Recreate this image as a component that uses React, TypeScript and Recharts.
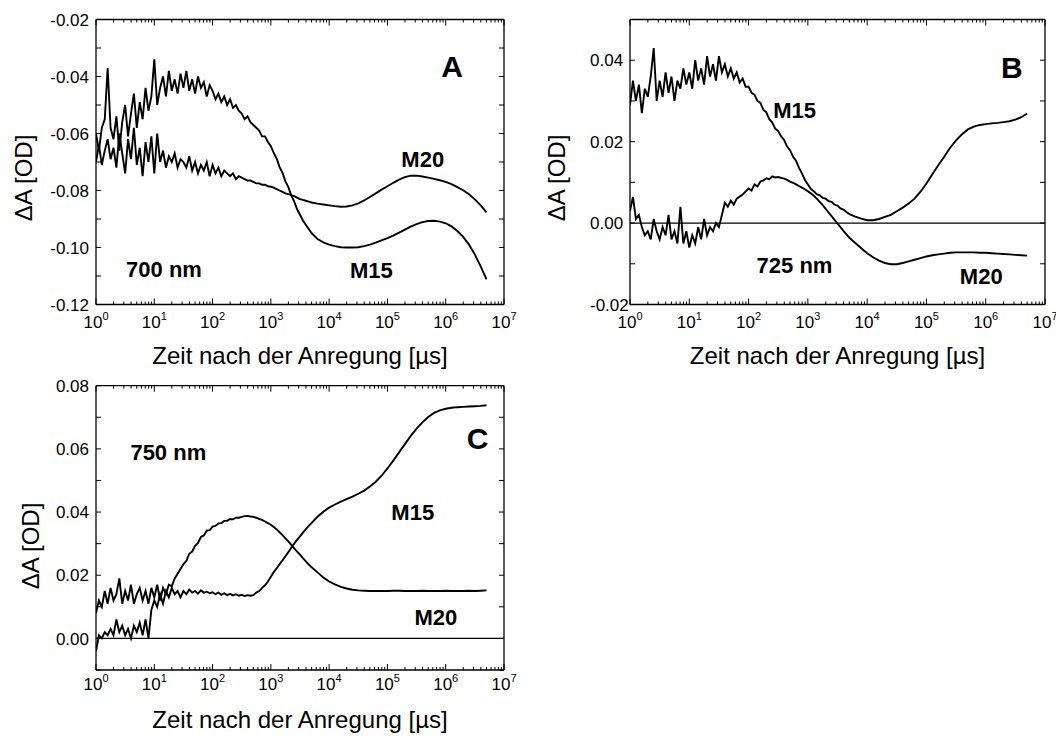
import React from 'react'
import { LineChart, Line, XAxis, YAxis, ReferenceLine, ReferenceDot } from 'recharts'

// log10 of the time after excitation (µs); dense where the traces are noisy
const logTime = [
    0.0, 0.05, 0.1, 0.15, 0.2, 0.25, 0.3, 0.35, 0.4, 0.45,
    0.5, 0.55, 0.6, 0.65, 0.7, 0.75, 0.8, 0.85, 0.9, 0.95,
    1.0, 1.05, 1.1, 1.15, 1.2, 1.25, 1.3, 1.35, 1.4, 1.45,
    1.5, 1.55, 1.6, 1.65, 1.7, 1.75, 1.8, 1.85, 1.9, 1.95,
    2.0, 2.05, 2.1, 2.15, 2.2, 2.25, 2.3, 2.35, 2.4, 2.45,
    2.5, 2.55, 2.6, 2.65, 2.7, 2.75, 2.8, 2.85, 2.9, 2.95,
    3.0, 3.05, 3.1, 3.15, 3.2, 3.25, 3.3, 3.35, 3.4, 3.45,
    3.5, 3.55, 3.6, 3.65,
    3.7, 3.8, 3.9, 4.0, 4.1, 4.2, 4.3, 4.4, 4.5, 4.6,
    4.7, 4.8, 4.9, 5.0, 5.1, 5.2, 5.3, 5.4, 5.5, 5.6,
    5.7, 5.8, 5.9, 6.0, 6.1, 6.2, 6.3, 6.4, 6.5, 6.6, 6.7,
]

// 700 nm
const m15At700 = [
    -0.060, -0.066, -0.058, -0.055, -0.037, -0.058, -0.062, -0.054, -0.066, -0.056,
    -0.050, -0.061, -0.053, -0.046, -0.058, -0.049, -0.055, -0.044, -0.052, -0.047,
    -0.034, -0.050, -0.044, -0.040, -0.047, -0.038, -0.045, -0.041, -0.046, -0.039,
    -0.044, -0.038, -0.045, -0.041, -0.046, -0.040, -0.044, -0.042, -0.047, -0.043,
    -0.045, -0.048, -0.046, -0.049, -0.047, -0.050, -0.048, -0.051, -0.050, -0.052,
    -0.053, -0.055, -0.054, -0.056, -0.057, -0.058, -0.059, -0.061, -0.061, -0.063,
    -0.0645, -0.0668, -0.0688, -0.0718, -0.0738, -0.0768, -0.0788, -0.0817, -0.0838, -0.0866,
    -0.0885, -0.0905, -0.092, -0.0935,
    -0.095, -0.097, -0.0982, -0.099, -0.0995, -0.0999, -0.1, -0.1, -0.0999, -0.0995,
    -0.099, -0.0983, -0.0975, -0.0967, -0.0958, -0.0948, -0.0937, -0.0927, -0.0918, -0.0911,
    -0.0907, -0.0906, -0.0909, -0.0915, -0.0926, -0.0942, -0.0963, -0.099, -0.1025, -0.1066, -0.1112,
]
const m20At700 = [
    -0.070, -0.064, -0.071, -0.066, -0.062, -0.069, -0.065, -0.072, -0.060, -0.067,
    -0.074, -0.062, -0.069, -0.058, -0.071, -0.065, -0.075, -0.063, -0.070, -0.061,
    -0.074, -0.060, -0.070, -0.066, -0.072, -0.068, -0.070, -0.067, -0.072, -0.069,
    -0.070, -0.072, -0.068, -0.073, -0.070, -0.074, -0.071, -0.073, -0.070, -0.075,
    -0.071, -0.074, -0.072, -0.075, -0.073, -0.074, -0.075, -0.074, -0.076, -0.075,
    -0.0755, -0.076, -0.0765, -0.0765, -0.077, -0.0775, -0.0775, -0.078, -0.078, -0.0785,
    -0.0787, -0.079, -0.0795, -0.08, -0.0805, -0.081, -0.0813, -0.0816, -0.082, -0.0825,
    -0.083, -0.0833, -0.0836, -0.0839,
    -0.0842, -0.0846, -0.0849, -0.0852, -0.0855, -0.0857, -0.0856, -0.0852, -0.0845, -0.0835,
    -0.0823, -0.081, -0.0797, -0.0785, -0.0773, -0.0762, -0.0753, -0.0748, -0.0748, -0.0751,
    -0.0755, -0.0759, -0.0764, -0.077, -0.0778, -0.0788, -0.0799, -0.0813, -0.0831, -0.0852, -0.0877,
]

// 725 nm
const m15At725 = [
    0.029, 0.035, 0.030, 0.034, 0.027, 0.033, 0.031, 0.036, 0.043, 0.030,
    0.035, 0.031, 0.037, 0.032, 0.036, 0.030, 0.035, 0.033, 0.038, 0.034,
    0.037, 0.033, 0.040, 0.035, 0.038, 0.034, 0.041, 0.036, 0.039, 0.035,
    0.041, 0.037, 0.039, 0.036, 0.038, 0.0355, 0.037, 0.0345, 0.0355, 0.0335,
    0.0335, 0.032, 0.0315, 0.030, 0.0295, 0.0278, 0.0272, 0.0255, 0.0247, 0.0232,
    0.0226, 0.0213, 0.0204, 0.0188, 0.0179, 0.0163, 0.0153, 0.0136, 0.0122, 0.0106,
    0.0095, 0.0084, 0.0078, 0.0071, 0.0068, 0.0062, 0.006, 0.0054, 0.0052, 0.0045,
    0.0043, 0.0036, 0.0033, 0.0027,
    0.0022, 0.0016, 0.0011, 0.0007, 0.0007, 0.001, 0.0015, 0.002, 0.0029, 0.0038,
    0.0048, 0.006, 0.0077, 0.0097, 0.012, 0.0142, 0.0163, 0.0185, 0.0203, 0.0218,
    0.023, 0.0237, 0.0241, 0.0243, 0.0245, 0.0246, 0.0248, 0.025, 0.0254, 0.026, 0.0269,
]
const m20At725 = [
    0.003, 0.0064, 0.001, 0.002, -0.001, -0.003, -0.002, -0.004, 0.001, -0.002,
    -0.004, -0.001, -0.003, 0.002, -0.004, -0.002, -0.005, 0.004, -0.005, -0.002,
    -0.006, -0.003, -0.005, -0.001, -0.004, 0.001, -0.003, -0.001, -0.002, 0.0,
    -0.001, 0.002, 0.005, 0.004, 0.0055, 0.0045, 0.006, 0.0065, 0.007, 0.0078,
    0.0085, 0.008, 0.0095, 0.009, 0.0102, 0.0105, 0.011, 0.0108, 0.0115, 0.0112,
    0.0113, 0.0111, 0.0109, 0.0106, 0.0102, 0.0099, 0.0095, 0.0091, 0.0087, 0.0083,
    0.0078, 0.0073, 0.0067, 0.006, 0.0052, 0.0044, 0.0035, 0.0026, 0.0017, 0.0008,
    -0.0001, -0.001, -0.0019, -0.0028,
    -0.0036, -0.0049, -0.0062, -0.0074, -0.0084, -0.0092, -0.0098, -0.0101, -0.0101, -0.0098,
    -0.0094, -0.009, -0.0086, -0.0082, -0.0079, -0.0077, -0.0075, -0.0073, -0.0072, -0.0072,
    -0.0072, -0.0072, -0.0073, -0.0073, -0.0074, -0.0075, -0.0076, -0.0077, -0.0078, -0.0079, -0.008,
]

// 750 nm
const m15At750 = [
    -0.004, 0.001, 0.0, 0.002, 0.001, 0.003, 0.001, 0.006, 0.002, 0.004,
    0.001, 0.003, 0.0, 0.004, 0.002, 0.005, 0.001, 0.006, 0.0, 0.009,
    0.012, 0.010, 0.014, 0.011, 0.015, 0.013, 0.016, 0.014, 0.015, 0.013,
    0.015, 0.014, 0.0155, 0.0145, 0.015, 0.0142, 0.0152, 0.0145, 0.0148, 0.0143,
    0.0146, 0.014, 0.0145, 0.0138, 0.0143, 0.0137, 0.0141, 0.0136, 0.014, 0.0135,
    0.0138, 0.0134, 0.0137, 0.0135, 0.0137, 0.0145, 0.015, 0.016, 0.0168, 0.018,
    0.0195, 0.021, 0.0222, 0.0235, 0.0247, 0.026, 0.0273, 0.0287, 0.030, 0.0312,
    0.0323, 0.0335, 0.0346, 0.0356,
    0.0366, 0.0385, 0.0401, 0.0414, 0.0424, 0.0433, 0.0441, 0.0449, 0.0458, 0.0468,
    0.0481, 0.0496, 0.0515, 0.0538, 0.0563, 0.0589, 0.0615, 0.0641, 0.0664, 0.0684,
    0.0701, 0.0714, 0.0722, 0.0727, 0.073, 0.0732, 0.0733, 0.0734, 0.0735, 0.0736, 0.0738,
]
const m20At750 = [
    0.008, 0.012, 0.010, 0.015, 0.011, 0.016, 0.012, 0.014, 0.019, 0.011,
    0.015, 0.012, 0.017, 0.011, 0.014, 0.016, 0.012, 0.015, 0.011, 0.016,
    0.013, 0.017, 0.012, 0.016, 0.014, 0.017, 0.0165, 0.019, 0.0205, 0.022,
    0.0235, 0.0245, 0.0268, 0.0275, 0.0293, 0.0302, 0.0321, 0.0326, 0.0341, 0.0343,
    0.0354, 0.0356, 0.0364, 0.0365, 0.0372, 0.0372, 0.0378, 0.0377, 0.0382, 0.0382,
    0.0385, 0.0387, 0.0388, 0.0386, 0.0385, 0.0382, 0.0378, 0.0375, 0.037, 0.0365,
    0.036, 0.0353, 0.0345, 0.0336, 0.0327, 0.0317, 0.0307, 0.0296, 0.0285, 0.0275,
    0.0265, 0.0254, 0.0244, 0.0234,
    0.0225, 0.0209, 0.0193, 0.018, 0.0171, 0.0163, 0.0158, 0.0154, 0.0152, 0.0151,
    0.015, 0.015, 0.015, 0.015, 0.0151, 0.0151, 0.015, 0.015, 0.015, 0.0151,
    0.015, 0.015, 0.015, 0.0151, 0.015, 0.015, 0.015, 0.0151, 0.015, 0.0151, 0.0152,
]

const decades = [1, 10, 100, 1e3, 1e4, 1e5, 1e6, 1e7]
const minorSteps = [2, 3, 4, 5, 6, 7, 8, 9]

const yMajor700 = [-0.12, -0.1, -0.08, -0.06, -0.04, -0.02]
const yMinor700 = [-0.11, -0.09, -0.07, -0.05, -0.03]
const yMajor725 = [-0.02, 0, 0.02, 0.04]
const yMinor725 = [-0.01, 0.01, 0.03, 0.05]
const yMajor750 = [0, 0.02, 0.04, 0.06, 0.08]
const yMinor750 = [-0.01, 0.01, 0.03, 0.05, 0.07]

interface Note { t: number; v: number; text: string; size: number }

const notes700: Note[] = [
    { t: 1.28e6, v: -0.0363, text: 'A', size: 30 },
    { t: 4.04e5, v: -0.0689, text: 'M20', size: 22 },
    { t: 5.29e4, v: -0.1078, text: 'M15', size: 22 },
    { t: 14.7, v: -0.1075, text: '700 nm', size: 22 },
]
const notes725: Note[] = [
    { t: 2.77e6, v: 0.0382, text: 'B', size: 30 },
    { t: 600, v: 0.0278, text: 'M15', size: 22 },
    { t: 595, v: -0.0103, text: '725 nm', size: 22 },
    { t: 8.41e5, v: -0.013, text: 'M20', size: 22 },
]
const notes750: Note[] = [
    { t: 3.51e6, v: 0.0632, text: 'C', size: 30 },
    { t: 17.4, v: 0.059, text: '750 nm', size: 22 },
    { t: 2.72e5, v: 0.0398, text: 'M15', size: 22 },
    { t: 6.8e5, v: 0.0066, text: 'M20', size: 22 },
]

const FONT = '"Liberation Sans", Arial, Helvetica, sans-serif'
const timeTicks = [...decades, ...decades.slice(0, 7).flatMap(d => minorSteps.map(k => k * d))]

const toRows = (m15: number[], m20: number[]) =>
    logTime.map((e, i) => ({ t: Math.pow(10, e), m15: m15[i], m20: m20[i] }))

const isDecade = (v: number) => decades.includes(v)

interface PanelProps {
    left: number
    top: number
    width: number
    height: number
    marginTop: number
    marginRight: number
    yAxisWidth: number
    xAxisHeight: number
    m15: number[]
    m20: number[]
    yDomain: [number, number]
    yMajor: number[]
    yMinor: number[]
    notes: Note[]
    zeroLine?: boolean
    tickGap: number
    yLabelsStart?: boolean
    xTitleY: number
    yTitleX: number
    yTitleY: number
}

const Panel = (p: PanelProps) => {
    const rows = toRows(p.m15, p.m20)
    const axisLine = { stroke: '#000', strokeWidth: 1.3 }
    const plotLeft = p.yAxisWidth
    const plotRight = p.width - p.marginRight

    const bottomTick = (props: any) => {
        const { x, y, payload } = props
        const major = isDecade(payload.value)
        return (
            <g>
                <line x1={x} y1={y} x2={x} y2={y - (major ? 6 : 3)} stroke="#000" strokeWidth={1} />
                {major && (
                    <text x={x} y={y + p.tickGap} textAnchor="middle" fontSize={17} fontFamily={FONT} fill="#000">
                        10<tspan dy={-8} fontSize={11}>{Math.round(Math.log10(payload.value))}</tspan>
                    </text>
                )}
            </g>
        )
    }
    const topTick = (props: any) => {
        const { x, y, payload } = props
        const major = isDecade(payload.value)
        return <line x1={x} y1={y} x2={x} y2={y + (major ? 6 : 3)} stroke="#000" strokeWidth={1} />
    }
    const leftTick = (props: any) => {
        const { x, y, payload } = props
        const major = p.yMajor.includes(payload.value)
        return (
            <g>
                <line x1={x} y1={y} x2={x + 5} y2={y} stroke="#000" strokeWidth={1} />
                {major && (
                    <text
                        x={p.yLabelsStart ? x - 40 : x - 7}
                        y={y}
                        dy="0.36em"
                        textAnchor={p.yLabelsStart ? 'start' : 'end'}
                        fontSize={17}
                        fontFamily={FONT}
                        fill="#000"
                    >
                        {payload.value.toFixed(2)}
                    </text>
                )}
            </g>
        )
    }
    const rightTick = (props: any) => {
        const { x, y } = props
        return <line x1={x} y1={y} x2={x - 5} y2={y} stroke="#000" strokeWidth={1} />
    }

    const xTitle = () => (
        <text x={(plotLeft + plotRight) / 2} y={p.xTitleY} textAnchor="middle" fontSize={24} fontFamily={FONT} fill="#000">
            Zeit nach der Anregung [µs]
        </text>
    )
    const yTitle = () => (
        <text
            x={p.yTitleX}
            y={p.yTitleY}
            dy="0.35em"
            textAnchor="middle"
            fontSize={24}
            fontFamily={FONT}
            fill="#000"
            transform={`rotate(-90 ${p.yTitleX} ${p.yTitleY})`}
        >
            ΔA [OD]
        </text>
    )

    return (
        <div style={{ position: 'absolute', left: p.left, top: p.top }}>
            <LineChart
                width={p.width}
                height={p.height}
                data={rows}
                margin={{ top: p.marginTop - 1, right: p.marginRight - 1, bottom: 0, left: 0 }}
            >
                <XAxis
                    dataKey="t"
                    type="number"
                    scale="log"
                    domain={[1, 1e7]}
                    allowDataOverflow
                    ticks={timeTicks}
                    interval={0}
                    tickSize={0}
                    tickMargin={0}
                    tickLine={false}
                    axisLine={axisLine}
                    tick={bottomTick}
                    height={p.xAxisHeight}
                    label={xTitle}
                />
                <XAxis
                    xAxisId="top"
                    orientation="top"
                    dataKey="t"
                    type="number"
                    scale="log"
                    domain={[1, 1e7]}
                    allowDataOverflow
                    ticks={timeTicks}
                    interval={0}
                    tickSize={0}
                    tickMargin={0}
                    tickLine={false}
                    axisLine={axisLine}
                    tick={topTick}
                    height={1}
                />
                <YAxis
                    type="number"
                    domain={p.yDomain}
                    allowDataOverflow
                    ticks={[...p.yMajor, ...p.yMinor]}
                    interval={0}
                    tickSize={0}
                    tickMargin={0}
                    tickLine={false}
                    axisLine={axisLine}
                    tick={leftTick}
                    width={p.yAxisWidth}
                    label={yTitle}
                />
                <YAxis
                    yAxisId="right"
                    orientation="right"
                    type="number"
                    domain={p.yDomain}
                    allowDataOverflow
                    ticks={[...p.yMajor, ...p.yMinor]}
                    interval={0}
                    tickSize={0}
                    tickMargin={0}
                    tickLine={false}
                    axisLine={axisLine}
                    tick={rightTick}
                    width={1}
                />
                {p.zeroLine && <ReferenceLine y={0} stroke="#000" strokeWidth={1.3} />}
                <Line
                    xAxisId="top"
                    yAxisId="right"
                    type="linear"
                    dataKey="m15"
                    stroke="none"
                    dot={false}
                    activeDot={false}
                    isAnimationActive={false}
                />
                <Line type="linear" dataKey="m15" stroke="#000" strokeWidth={1.9} dot={false} isAnimationActive={false} />
                <Line type="linear" dataKey="m20" stroke="#000" strokeWidth={1.9} dot={false} isAnimationActive={false} />
                {p.notes.map(n => (
                    <ReferenceDot
                        key={n.text}
                        x={n.t}
                        y={n.v}
                        r={0}
                        fill="none"
                        stroke="none"
                        label={{
                            value: n.text,
                            position: 'center',
                            fontSize: n.size,
                            fontWeight: 'bold',
                            fontFamily: FONT,
                            fill: '#000',
                        }}
                    />
                ))}
            </LineChart>
        </div>
    )
}

const App = () => {
    return (
        <div style={{ position: 'absolute', left: 0, top: 0, width: 1056, height: 738, background: '#fff', overflow: 'hidden' }}>
            <Panel
                left={0} top={0} width={530} height={380}
                marginTop={19.5} marginRight={26} yAxisWidth={96} xAxisHeight={75.5}
                m15={m15At700} m20={m20At700}
                yDomain={[-0.12, -0.02]} yMajor={yMajor700} yMinor={yMinor700}
                notes={notes700} tickGap={23}
                xTitleY={364} yTitleX={24} yTitleY={178}
            />
            <Panel
                left={530} top={0} width={526} height={380}
                marginTop={19.5} marginRight={11} yAxisWidth={100} xAxisHeight={75.5}
                m15={m15At725} m20={m20At725}
                yDomain={[-0.02, 0.05]} yMajor={yMajor725} yMinor={yMinor725}
                notes={notes725} zeroLine tickGap={23} yLabelsStart
                xTitleY={364} yTitleX={26.5} yTitleY={178}
            />
            <Panel
                left={0} top={360} width={530} height={378}
                marginTop={25.7} marginRight={26} yAxisWidth={96} xAxisHeight={68}
                m15={m15At750} m20={m20At750}
                yDomain={[-0.01, 0.08]} yMajor={yMajor750} yMinor={yMinor750}
                notes={notes750} zeroLine tickGap={20}
                xTitleY={368} yTitleX={31} yTitleY={186}
            />
        </div>
    )
}

export default App
